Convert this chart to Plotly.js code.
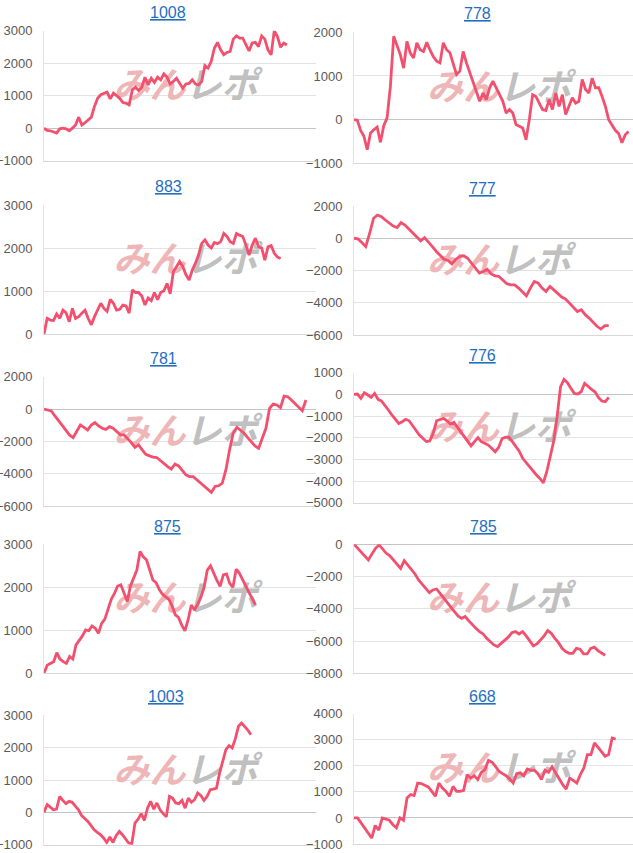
<!DOCTYPE html>
<html>
<head>
<meta charset="utf-8">
<script src="https://cdn.plot.ly/plotly-3.0.1.min.js"></script>
<style>
html, body { margin: 0; padding: 0; background: #fff; }
#chart { width: 633px; height: 853px; }
</style>
</head>
<body>
<div id="chart"></div>
<script>
// 台番号（左上から右下へ）
const machines = ['1008', '778', '883', '777', '781', '776', '875', '785', '1003', '668'];

// 差枚推移
const s1008 = [0,-70,-80,-120,-150,-20,0,-20,-80,0,100,340,100,170,260,340,670,920,1030,1080,1110,900,1080,1000,920,790,770,720,1180,1260,1160,1260,1570,1330,1540,1410,1570,1490,1670,1570,1360,1440,1540,1380,1230,1360,1380,1490,1360,1330,1440,1930,1850,2050,2460,2640,2410,2260,2330,2360,2740,2840,2770,2770,2560,2380,2620,2640,2510,2840,2740,2410,2260,3000,2820,2490,2620,2560];
const s778 = [0,-15,-245,-380,-690,-305,-230,-170,-520,-140,40,760,1910,1720,1490,1180,1790,1530,1410,1760,1600,1560,1770,1590,1440,1340,1300,1760,1600,1530,1260,1030,1110,1560,1300,1070,880,610,420,610,460,730,880,730,570,420,150,230,150,-115,-150,-190,-460,0,570,530,380,230,210,460,230,610,305,570,115,305,500,380,420,920,690,610,950,730,730,530,305,0,-140,-245,-320,-530,-345,-270];
const s883 = [0,370,330,320,470,370,560,500,290,600,370,410,490,560,370,220,410,580,720,600,530,810,720,560,580,680,660,490,1030,970,970,890,680,840,780,970,800,970,1010,1180,940,1450,1570,1690,1570,1380,1260,1490,1650,1840,2110,2190,2070,2000,2130,2100,2150,2340,2270,2150,2110,2340,2300,2270,2070,1840,2070,2230,2030,2000,1720,2030,2060,1880,1790,1760];
const s777 = [0,-40,-270,-520,310,1240,1440,1340,1130,930,760,660,970,820,560,310,100,-160,40,-210,-520,-820,-1090,-1300,-1380,-1590,-1300,-1130,-1090,-1240,-1550,-1860,-2160,-2060,-1920,-2210,-2330,-2370,-2580,-2820,-2890,-2890,-3090,-3360,-3570,-3090,-2680,-2780,-3090,-3300,-2990,-3200,-3440,-3650,-3770,-4020,-4270,-4540,-4430,-4740,-4950,-5220,-5460,-5630,-5420,-5420];
const s781 = [0,-60,-120,-430,-740,-1050,-1340,-1600,-1770,-1400,-990,-1130,-1300,-990,-840,-1050,-1190,-1260,-1090,-1190,-1400,-1600,-1600,-1810,-2080,-2370,-2220,-2530,-2800,-2900,-2980,-3000,-3190,-3420,-3560,-3720,-3400,-3520,-3830,-4070,-4180,-4180,-4380,-4590,-4790,-4960,-5160,-4790,-4750,-4590,-3770,-2530,-1500,-1130,-1300,-1500,-1770,-2020,-2280,-2430,-1810,-1190,40,310,250,80,800,760,560,350,140,-100,560];
const s776 = [0,15,-185,75,-30,-140,45,-230,-310,-490,-720,-950,-1150,-1340,-1260,-1150,-1220,-1460,-1680,-1880,-2030,-2180,-2150,-1800,-1220,-1150,-1110,-1220,-1370,-1290,-1520,-1720,-1950,-2150,-2380,-2180,-2000,-2180,-2260,-2340,-2490,-2650,-2450,-2050,-1980,-1980,-2180,-2420,-2620,-2950,-3150,-3340,-3570,-3720,-3880,-4080,-3570,-2880,-2180,-1030,350,690,540,280,45,15,120,510,350,230,120,-140,-310,-340,-140];
const s875 = [0,190,230,270,480,330,270,230,390,330,660,760,870,1010,990,1100,1050,930,1160,1260,1470,1720,1860,2030,2060,1860,1670,2030,2210,2400,2830,2710,2640,2420,2170,2110,1950,1840,1770,1720,1570,1360,1300,1120,990,1240,1590,1470,1610,1770,2000,2400,2500,2310,2160,2020,2290,2310,2090,2000,2420,2330,2170,2000,1880,1740,1590];
const s785 = [0,-250,-520,-720,-970,-600,-250,-40,-310,-560,-720,-970,-1240,-1490,-1010,-1280,-1550,-1840,-2210,-2460,-2730,-3000,-2830,-2770,-3040,-3350,-3620,-3900,-4170,-4440,-4590,-4480,-4750,-5000,-5210,-5410,-5560,-5830,-6030,-6240,-6340,-6140,-5930,-5760,-5480,-5410,-5560,-5410,-5680,-6030,-6300,-6180,-5930,-5680,-5350,-5520,-5830,-6100,-6450,-6650,-6760,-6760,-6450,-6510,-6800,-6800,-6450,-6380,-6590,-6760,-6880];
const s1003 = [0,240,160,80,100,490,370,270,340,310,190,80,-100,-180,-280,-410,-540,-620,-690,-790,-930,-760,-930,-720,-590,-690,-820,-950,-970,-330,-210,-40,-250,130,340,100,290,80,-40,-140,490,440,290,270,370,130,440,310,390,600,520,370,490,700,720,750,1220,1580,1940,2060,1990,2270,2660,2760,2660,2540,2400];
const s668 = [0,0,-190,-380,-580,-770,-290,-470,0,-60,-90,-260,-380,0,-90,770,900,860,1340,1320,1240,1190,1020,830,1340,1150,1020,830,1210,1020,1020,1060,1660,1530,1620,1470,1750,1850,2210,2140,1980,1790,1700,1620,1500,1340,1700,1730,1620,1880,1830,1830,1700,1470,1830,1750,1960,1730,1530,1280,1110,1530,1440,1340,1660,1920,2430,2430,2880,2720,2560,2370,2430,3070,3030];

const series = [s1008, s778, s883, s777, s781, s776, s875, s785, s1003, s668];

// 縦軸の範囲と目盛り間隔
const yRanges = [[-1000, 3000], [-1000, 2000], [0, 3000], [-6000, 2000], [-6000, 2000],
                 [-5000, 1000], [0, 3000], [-8000, 0], [-1000, 3000], [-1000, 4000]];
const yDticks = [1000, 1000, 1000, 2000, 2000, 1000, 1000, 2000, 1000, 1000];

// 横方向: 描画済み区間の割合（営業時間の経過分）
const spanFrac = [0.893, 0.984, 0.87, 0.913, 0.963, 0.913, 0.777, 0.90, 0.761, 0.938];

// パネル配置（px）
const W = 633, H = 853;
const colLeft = [44, 354], colRight = [316, 633];
const tops = [30.7, 32.3, 205, 206, 376.7, 372.7, 544.3, 544.3, 715.3, 713.7];
const bottoms = [160.7, 163.3, 334.3, 335, 506, 502.7, 673.3, 673.3, 844.7, 844];
const titleX = [168, 478, 168, 482, 164, 482, 167, 483, 166, 482];
const titleY = [12, 13, 186, 188, 358, 355, 526, 526, 696, 696];

const lineColor = '#f2506e';
const logoText = '<b><span style="color:#eeb6b6">みん</span><span style="color:#c0c0c0">レポ</span></b>';

const traces = [];
const layout = {
    width: W,
    height: H,
    margin: { l: 0, r: 0, t: 0, b: 0 },
    paper_bgcolor: '#fff',
    plot_bgcolor: '#fff',
    showlegend: false,
    hovermode: false,
    font: { family: 'Liberation Sans, Arial, sans-serif', color: '#5a5a5a', size: 13 },
    annotations: []
};

series.forEach((ys, i) => {
    const col = i % 2;
    const sfx = i === 0 ? '' : String(i + 1);
    const xMax = (ys.length - 1) / spanFrac[i];
    const yr = yRanges[i];

    // 透かしロゴ（線の下に描く）
    traces.push({
        x: [xMax * 0.52],
        y: [yr[0] + (yr[1] - yr[0]) * 0.55],
        type: 'scatter',
        mode: 'text',
        text: [logoText],
        textposition: 'middle center',
        textfont: { family: 'Noto Sans CJK JP', size: 36, style: 'italic' },
        xaxis: 'x' + sfx,
        yaxis: 'y' + sfx,
        cliponaxis: false
    });

    traces.push({
        x: ys.map((_, k) => k),
        y: ys,
        type: 'scatter',
        mode: 'lines',
        line: { color: lineColor, width: 2.8 },
        xaxis: 'x' + sfx,
        yaxis: 'y' + sfx
    });

    layout['xaxis' + sfx] = {
        domain: [colLeft[col] / W, colRight[col] / W],
        range: [0, xMax],
        anchor: 'y' + sfx,
        showticklabels: false,
        showgrid: false,
        zeroline: false,
        showline: true,
        linecolor: '#d8d8d8',
        fixedrange: true
    };
    layout['yaxis' + sfx] = {
        domain: [1 - bottoms[i] / H, 1 - tops[i] / H],
        range: yr,
        dtick: yDticks[i],
        anchor: 'x' + sfx,
        showgrid: true,
        gridcolor: '#e3e3e3',
        zeroline: true,
        zerolinecolor: '#c4c4c4',
        zerolinewidth: 1,
        showline: true,
        linecolor: '#e3e3e3',
        ticks: '',
        ticklabelstandoff: 8,
        tickfont: { size: 13, color: '#5a5a5a' },
        fixedrange: true
    };

    layout.annotations.push({
        text: '<u>' + machines[i] + '</u>',
        xref: 'paper',
        yref: 'paper',
        x: titleX[i] / W,
        y: 1 - titleY[i] / H,
        xanchor: 'center',
        yanchor: 'middle',
        showarrow: false,
        font: { size: 16, color: '#1f6fbf', family: 'Liberation Sans, Arial, sans-serif' }
    });
});

Plotly.newPlot('chart', traces, layout, { displayModeBar: false, staticPlot: true });
</script>
</body>
</html>
